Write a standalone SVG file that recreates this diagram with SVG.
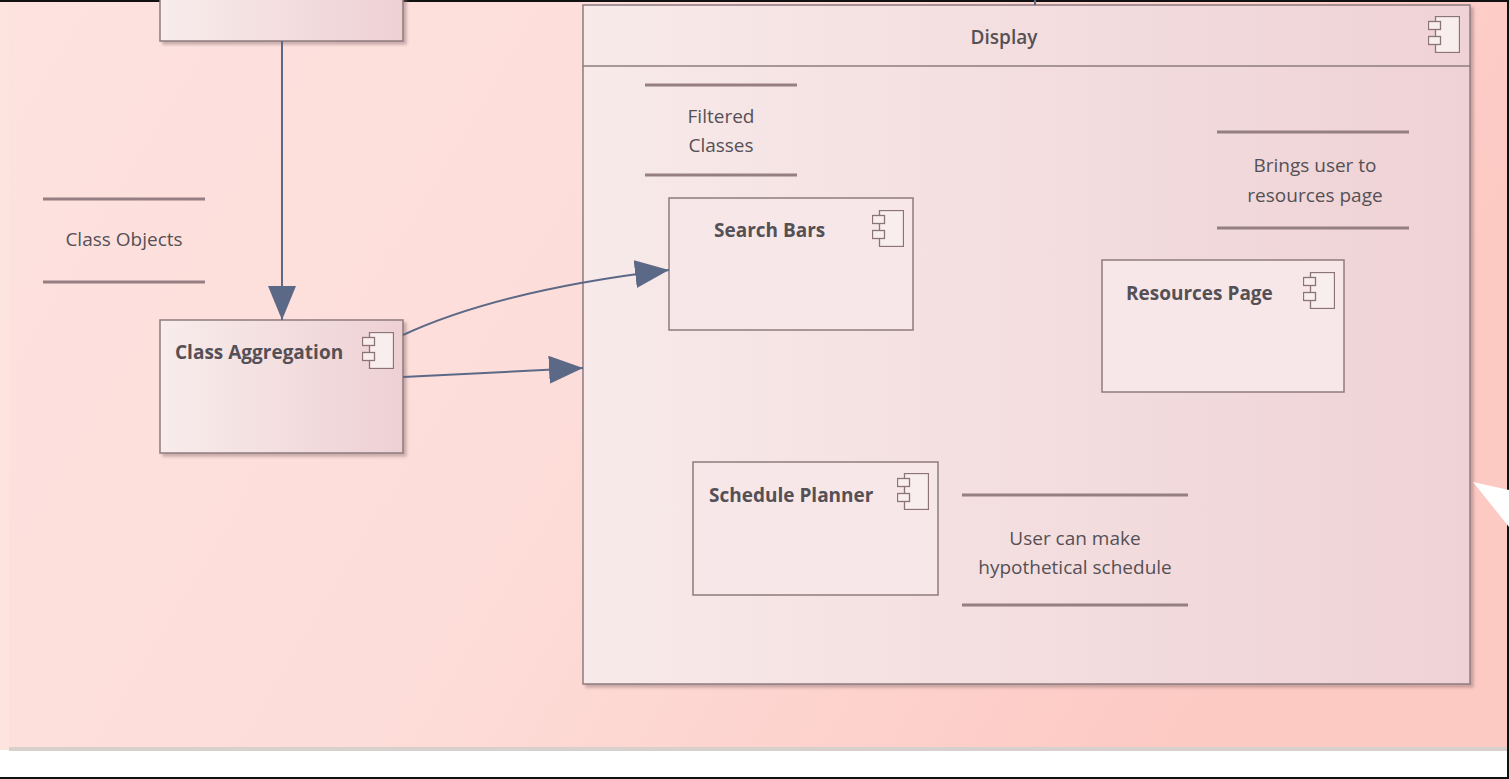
<svg xmlns="http://www.w3.org/2000/svg" width="1509" height="779" viewBox="0 0 1509 779">
<defs>
<linearGradient id="bg" x1="0" y1="0" x2="1" y2="0.3">
<stop offset="0" stop-color="#fde2df"/>
<stop offset="0.5" stop-color="#fdddd9"/>
<stop offset="1" stop-color="#fdc9c3"/>
</linearGradient>
<linearGradient id="nodeg" x1="0" y1="0" x2="1" y2="0">
<stop offset="0" stop-color="#f8ecec"/>
<stop offset="1" stop-color="#eed0d3"/>
</linearGradient>
<linearGradient id="dispg" x1="0" y1="0" x2="1" y2="0">
<stop offset="0" stop-color="#f8eaea"/>
<stop offset="1" stop-color="#efd2d5"/>
</linearGradient>
<symbol id="comp" viewBox="0 0 32 37" width="32" height="37">
<rect x="7.5" y="0.5" width="24" height="36" fill="#f9eeee" stroke="#8a7478" stroke-width="1.3"/>
<rect x="0.5" y="5.5" width="12" height="8" fill="#f9eeee" stroke="#8a7478" stroke-width="1.3"/>
<rect x="0.5" y="20.5" width="12" height="8" fill="#f9eeee" stroke="#8a7478" stroke-width="1.3"/>
</symbol>
<marker id="arr" markerWidth="36" markerHeight="28" refX="34" refY="14" orient="auto" markerUnits="userSpaceOnUse">
<path d="M0,0 L34,14 L0,28 Z" fill="#5b6886"/>
</marker>
<filter id="sh" x="-5%" y="-5%" width="115%" height="115%">
<feDropShadow dx="3" dy="3" stdDeviation="1.5" flood-color="#8a7070" flood-opacity="0.45"/>
</filter>
</defs>
<style>
.box{stroke:#8e7b7e;stroke-width:1.5}
.t{font-family:"Open Sans","Liberation Sans",sans-serif;fill:#555055}
.b{font-weight:bold;font-size:19px}
.n{font-size:19px}
.note{stroke:#957f82;stroke-width:3}
.conn{stroke:#5b6886;stroke-width:2;fill:none}
</style>
<rect x="0" y="0" width="1509" height="779" fill="#ffffff"/>
<rect x="0" y="0" width="1509" height="750" fill="url(#bg)"/>
<rect x="0" y="0" width="9" height="750" fill="#fde4df"/>
<rect x="9" y="747" width="1500" height="4" fill="#d8d0cc"/>
<rect x="0" y="0" width="1509" height="2" fill="#111"/>
<rect x="0" y="777" width="1509" height="2" fill="#111"/>
<rect x="1507" y="0" width="2" height="779" fill="#111"/>

<g id="top-node">
<rect x="160" y="-10" width="243" height="51" fill="url(#nodeg)" class="box" filter="url(#sh)"/>
</g>

<g id="class-objects">
<line x1="43" y1="199" x2="205" y2="199" class="note"/>
<line x1="43" y1="282" x2="205" y2="282" class="note"/>
<text x="124" y="246" text-anchor="middle" class="t n">Class Objects</text>
</g>

<g id="class-aggregation">
<rect x="160" y="320" width="243" height="133" fill="url(#nodeg)" class="box" filter="url(#sh)"/>
<text x="175" y="359" class="t b">Class Aggregation</text>
<use href="#comp" x="362" y="332"/>
</g>

<g id="display">
<rect x="583" y="5" width="887" height="679" fill="url(#dispg)" class="box" filter="url(#sh)"/>
<line x1="583" y1="66" x2="1470" y2="66" class="box"/>
<text x="1004" y="44" text-anchor="middle" class="t n" style="font-weight:600">Display</text>
<use href="#comp" x="1428" y="16"/>
</g>

<g id="filtered-classes">
<line x1="645" y1="85" x2="797" y2="85" class="note"/>
<line x1="645" y1="175" x2="797" y2="175" class="note"/>
<text x="721" y="123" text-anchor="middle" class="t n">Filtered</text>
<text x="721" y="152" text-anchor="middle" class="t n">Classes</text>
</g>

<g id="search-bars">
<rect x="669" y="198" width="244" height="132" fill="#f7e7e8" class="box"/>
<text x="714" y="237" class="t b">Search Bars</text>
<use href="#comp" x="872" y="210"/>
</g>

<g id="brings-user">
<line x1="1217" y1="132" x2="1409" y2="132" class="note"/>
<line x1="1217" y1="228" x2="1409" y2="228" class="note"/>
<text x="1315" y="172" text-anchor="middle" class="t n">Brings user to</text>
<text x="1315" y="202" text-anchor="middle" class="t n">resources page</text>
</g>

<g id="resources-page">
<rect x="1102" y="260" width="242" height="132" fill="#f7e7e8" class="box"/>
<text x="1126" y="300" class="t b">Resources Page</text>
<use href="#comp" x="1303" y="272"/>
</g>

<g id="schedule-planner">
<rect x="693" y="462" width="245" height="133" fill="#f7e7e8" class="box"/>
<text x="709" y="502" class="t b">Schedule Planner</text>
<use href="#comp" x="897" y="473"/>
</g>

<g id="user-can-make">
<line x1="962" y1="495" x2="1188" y2="495" class="note"/>
<line x1="962" y1="605" x2="1188" y2="605" class="note"/>
<text x="1075" y="545" text-anchor="middle" class="t n">User can make</text>
<text x="1075" y="574" text-anchor="middle" class="t n">hypothetical schedule</text>
</g>

<g id="connectors">
<line x1="282" y1="41" x2="282" y2="320" class="conn" marker-end="url(#arr)"/>
<path d="M403,335 Q500,290 669,270" class="conn" marker-end="url(#arr)"/>
<line x1="403" y1="377" x2="583" y2="368" class="conn" marker-end="url(#arr)"/>
<line x1="1035" y1="0" x2="1035" y2="5" class="conn"/>
</g>

<polygon points="1473,482 1509,490 1509,527" fill="#ffffff"/>
</svg>
